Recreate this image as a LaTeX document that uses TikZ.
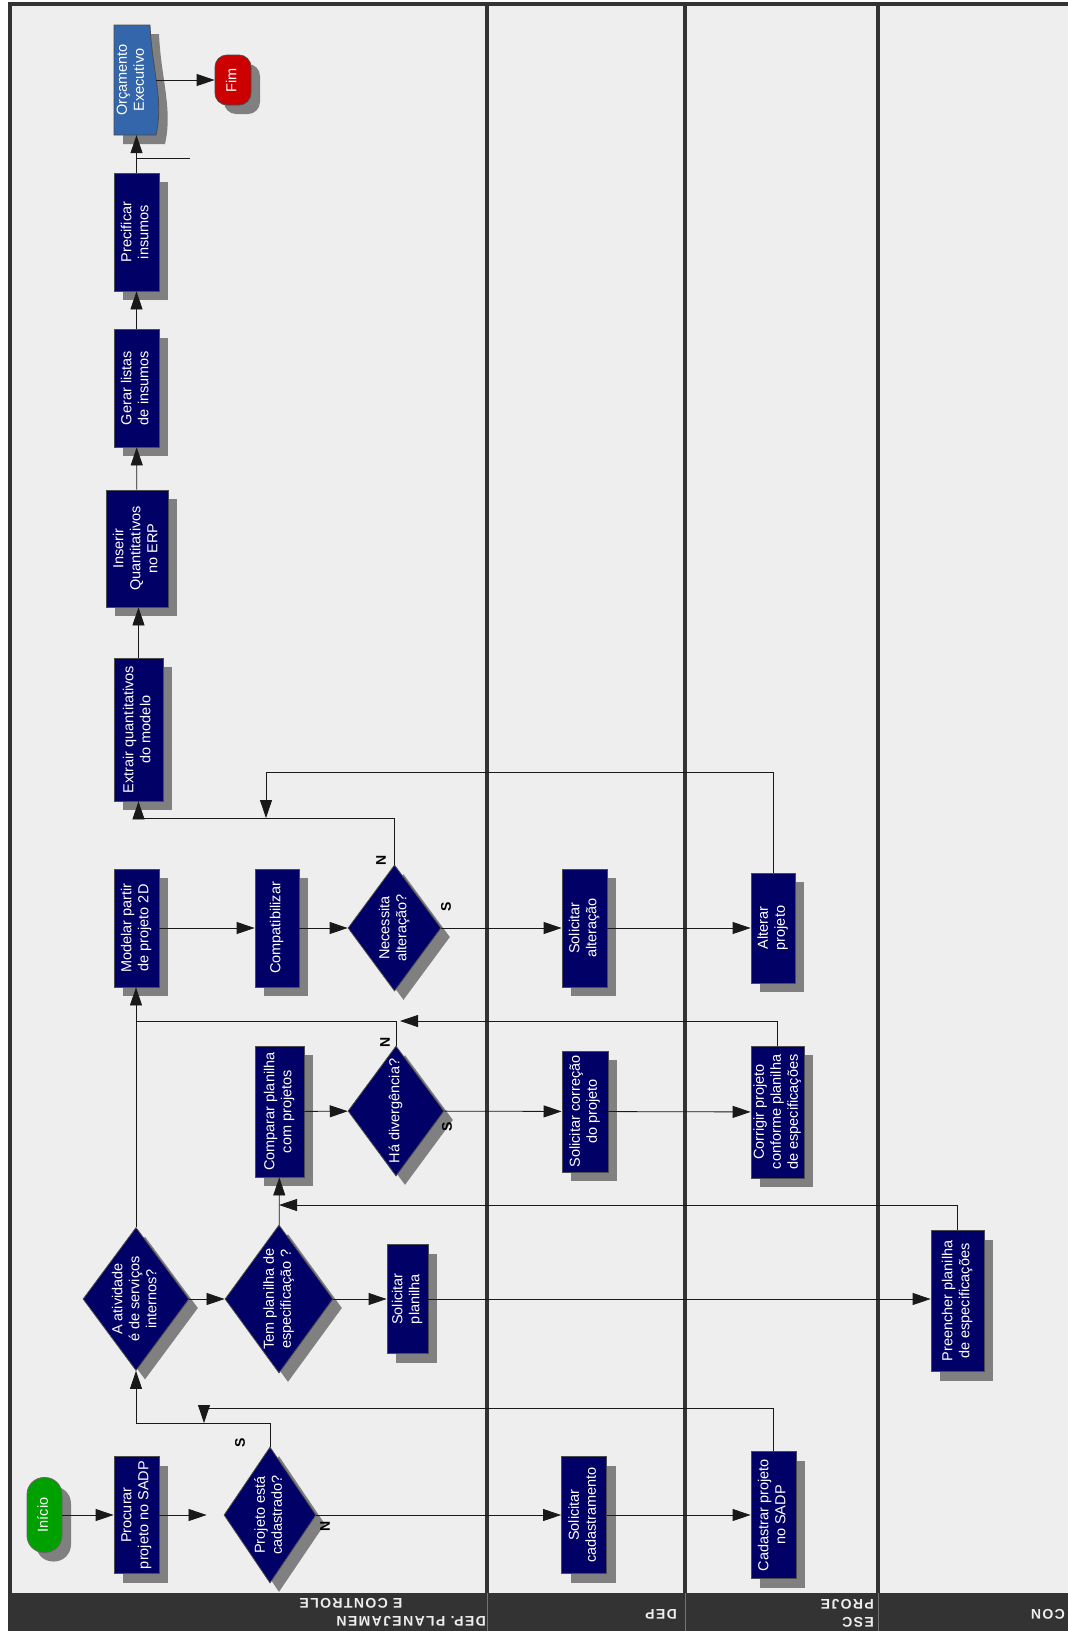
\documentclass[tikz,border=0pt]{standalone}
\usepackage{fontspec}
\setmainfont{Liberation Sans}
\usepackage{graphicx}
\usetikzlibrary{arrows.meta,shapes.geometric,shadows,calc}

\definecolor{navy}{RGB}{0,0,102}
\definecolor{lanebg}{RGB}{238,238,238}
\definecolor{framegray}{RGB}{51,51,51}
\definecolor{shadowgray}{RGB}{128,128,128}
\definecolor{startgreen}{RGB}{0,160,0}
\definecolor{endred}{RGB}{204,0,0}
\definecolor{docblue}{RGB}{51,102,170}

\newcommand{\vtext}[1]{\rotatebox{90}{\begin{tabular}{@{}c@{}}#1\end{tabular}}}

\begin{document}
\begin{tikzpicture}[x=1pt, y=-1pt,
    boxshadow/.style={drop shadow={shadow xshift=9pt, shadow yshift=-9pt, fill=shadowgray, opacity=1}},
    task/.style={draw=black!70, line width=0.8pt, fill=navy, text=white, inner sep=0pt, boxshadow, font=\fontsize{14.5}{17}\selectfont},
    decision/.style={diamond, draw=black!70, line width=0.8pt, fill=navy, inner sep=0pt, boxshadow},
    dlabel/.style={text=white, inner sep=0pt, font=\fontsize{14.5}{17}\selectfont},
    flow/.style={draw=black!90, line width=0.8pt, -{Triangle[length=18pt,width=12pt]}},
    link/.style={draw=black!90, line width=0.8pt},
    answer/.style={font=\fontsize{14}{16}\selectfont\bfseries, rotate=90, inner sep=0pt},
    lanehead/.style={text=lanebg, font=\fontsize{14}{16}\selectfont\bfseries\addfontfeature{LetterSpace=10}, rotate=180, inner sep=0pt}
]
\useasboundingbox (0,0) rectangle (1068,1631);
\fill[white] (0,0) rectangle (1068,1631);

% lanes
\fill[lanebg] (10,4) rectangle (1068,1593);
\fill[framegray] (10,1593) rectangle (1068,1631);
\draw[framegray, line width=4pt] (9.5,1631) -- (9.5,4) -- (1068,4);
\foreach \xs in {487,685,878}
  \draw[framegray, line width=3.5pt] (\xs,4) -- (\xs,1593);
\foreach \xs in {487,685,878}
  \draw[black!55, line width=0.8pt] (\xs,1593) -- (\xs,1631);

\begin{scope}
  \clip (10,1593) rectangle (486,1631);
  \node[lanehead, anchor=west] (headA) at (486,1621) {DEP. PLANEJAMEN};
  \node[lanehead] (headB) at (351,1603) {E CONTROLE};
\end{scope}
\node[lanehead, anchor=west] (headC) at (677,1614) {DEP};
\node[lanehead, anchor=west] (headD) at (874,1604) {PROJE};
\node[lanehead, anchor=west] (headE) at (874,1622) {ESC};
\node[lanehead, anchor=west] (headF) at (1065,1614) {CON};

% row 1
\node[task, fill=startgreen, draw=black!60, rounded corners=17pt, minimum width=35pt, minimum height=75pt] (inicio) at (44.5,1515) {\vtext{Início}};
\node[task, minimum width=45pt, minimum height=117pt] (procurar) at (136.5,1515) {\vtext{Procurar\\projeto no SADP}};
\node[decision, minimum width=92pt, minimum height=136pt, label={[dlabel]center:{\vtext{Projeto está\\cadastrado?}}}] (cad) at (270,1515) {};
\node[task, minimum width=45pt, minimum height=117pt] (solcad) at (584,1515) {\vtext{Solicitar\\cadastramento}};
\node[task, minimum width=45pt, minimum height=127pt] (cadproj) at (773.5,1515) {\vtext{Cadastrar projeto\\no SADP}};

% row 2
\node[decision, minimum width=106pt, minimum height=143pt, label={[dlabel]center:{\vtext{A atividade\\é de serviços\\internos?}}}] (ativ) at (136,1299) {};
\node[decision, minimum width=108pt, minimum height=148pt, label={[dlabel]center:{\vtext{Tem planilha de\\especificação ?}}}] (tem) at (279,1299) {};
\node[task, minimum width=41pt, minimum height=109pt] (solpl) at (407.5,1299) {\vtext{Solicitar\\planilha}};
\node[task, minimum width=53pt, minimum height=141pt] (preench) at (957.5,1301) {\vtext{Preencher planilha\\de especificações}};

% row 3
\node[task, minimum width=49pt, minimum height=131pt] (comp) at (279.5,1111.5) {\vtext{Comparar planilha\\com projetos}};
\node[decision, minimum width=96pt, minimum height=130pt, label={[dlabel]center:{\vtext{Há divergência?}}}] (div) at (396,1111) {};
\node[task, minimum width=46pt, minimum height=121pt] (solcor) at (585,1111.5) {\vtext{Solicitar correção\\do projeto}};
\node[task, minimum width=53pt, minimum height=132pt] (corrigir) at (777.5,1112) {\vtext{Corrigir projeto\\conforme planilha\\de especificações}};

% row 4
\node[task, minimum width=45pt, minimum height=118pt] (modelar) at (136.5,928) {\vtext{Modelar partir\\de projeto 2D}};
\node[task, minimum width=44pt, minimum height=118pt] (compat) at (277,928) {\vtext{Compatibilizar}};
\node[decision, minimum width=93pt, minimum height=126pt, label={[dlabel]center:{\vtext{Necessita\\alteração?}}}] (nec) at (394.5,928) {};
\node[task, minimum width=45pt, minimum height=118pt] (solalt) at (584.5,928) {\vtext{Solicitar\\alteração}};
\node[task, minimum width=44pt, minimum height=110pt] (alterar) at (773,928) {\vtext{Alterar\\projeto}};

% column to the end
\node[task, minimum width=49pt, minimum height=143pt] (extrair) at (138.5,729.5) {\vtext{Extrair quantitativos\\do modelo}};
\node[task, minimum width=62pt, minimum height=117pt] (inserir) at (137,548.5) {\vtext{Inserir\\Quantitativos\\no ERP}};
\node[task, minimum width=45pt, minimum height=118pt] (gerar) at (136.5,388) {\vtext{Gerar listas\\de insumos}};
\node[task, minimum width=45pt, minimum height=118pt] (precif) at (136.5,232) {\vtext{Precificar\\insumos}};

\fill[shadowgray] (123,34) -- (159,34) .. controls (161,79) and (173,109) .. (165,144) -- (123,144) -- cycle;
\filldraw[fill=docblue, draw=black!70, line width=0.8pt] (114,25) -- (150,25) .. controls (152,70) and (164,100) .. (156,135) -- (114,135) -- cycle;
\node[dlabel, minimum width=36pt, minimum height=110pt] (orc) at (132,80) {\vtext{Orçamento\\Executivo}};
\node[task, fill=endred, rounded corners=12pt, minimum width=36pt, minimum height=50pt] (fim) at (233,80) {\vtext{Fim}};

% connectors
\coordinate (cadhit) at (204,1423);
\coordinate (planret) at (279,1205);
\coordinate (corret) at (400,1021);
\coordinate (altret) at (266,818);
\coordinate (stub) at (190,158);

\draw[flow] (inicio) -- (procurar);
\draw[flow, shorten >=17pt] (procurar) -- (cad);
\draw[flow] (cad) -- (solcad);
\draw[flow] (solcad) -- (cadproj);
\draw[flow] (cad.north) -- (cad.north |- cadhit) -| (ativ.south);
\draw[flow] (cadproj.north) |- ($(cadhit)+(0,-15)$) -- (cadhit);

\draw[flow] (ativ) -- (tem);
\draw[flow] (tem) -- (solpl);
\draw[flow] (solpl.east) -- (solpl.east -| preench.west);
\draw[flow] (preench.north) |- (planret);
\draw[flow] (tem) -- (comp);
\draw[flow] (ativ.north) -- (ativ.north |- modelar.south);

\draw[flow] (comp) -- (div);
\draw[flow] (div) -- (solcor);
\draw[flow] (solcor) -- (corrigir);
\draw[flow] (corrigir.north) |- (corret);
\draw[link] (div.north) -- (div.north |- corret) -- (corret -| ativ.north);

\draw[flow] (modelar) -- (compat);
\draw[flow] (compat) -- (nec);
\draw[flow] (nec) -- (solalt);
\draw[flow] (solalt) -- (alterar);
\draw[flow] (alterar.north) |- ($(altret)+(0,-46)$) -- (altret);
\draw[flow] (nec.north) -- (nec.north |- altret) -| (extrair.south);

\draw[flow] (extrair.north) -- (extrair.north |- inserir.south);
\draw[flow] (inserir) -- (gerar);
\draw[flow] (gerar) -- (precif);
\draw[flow] (precif.north) -- (precif.north |- orc.south);
\draw[link] (precif.north |- stub) -- (stub);
\draw[flow, shorten <=6pt] (orc.east) -- (fim);

% answers
\node[answer] (ansS1) at (240,1443) {S};
\node[answer] (ansN1) at (325,1526) {N};
\node[answer] (ansN2) at (381,860) {N};
\node[answer] (ansS2) at (446,907) {S};
\node[answer] (ansN3) at (385,1042) {N};
\node[answer] (ansS3) at (447,1127) {S};
\end{tikzpicture}
\end{document}
